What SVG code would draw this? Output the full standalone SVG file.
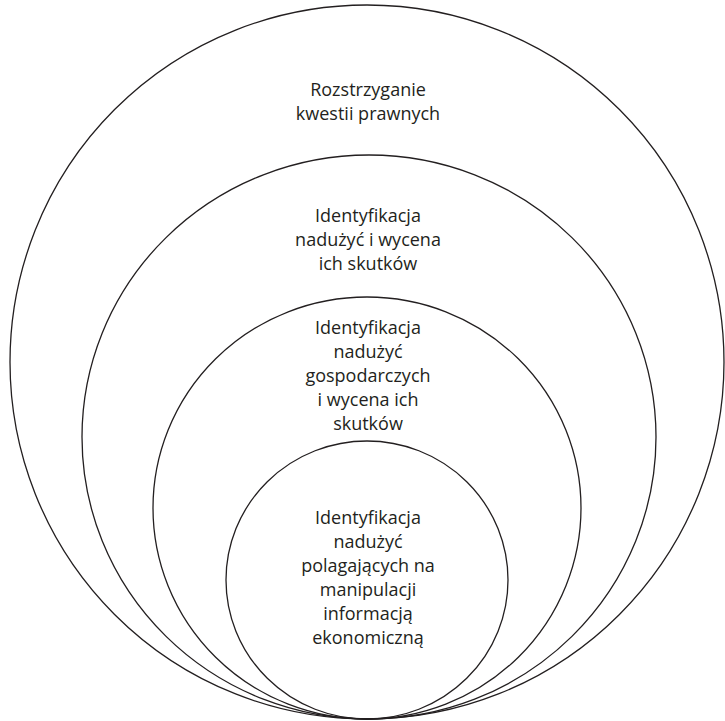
<svg xmlns="http://www.w3.org/2000/svg" width="725" height="721" viewBox="0 0 725 721">
<style>
.c{fill:none;stroke:#231f20;stroke-width:1.3}
.t{font-family:"Open Sans","Noto Sans",sans-serif;font-size:18px;fill:#231f20;text-anchor:middle}
</style>
<rect width="725" height="721" fill="#fff"/>
<g id="outer">
<ellipse class="c" cx="367" cy="362" rx="357" ry="357"/>
<text class="t" x="368" y="96">Rozstrzyganie</text>
<text class="t" x="368" y="120">kwestii prawnych</text>
</g>
<g id="second">
<ellipse class="c" cx="369" cy="437" rx="287" ry="282"/>
<text class="t" x="368" y="222">Identyfikacja</text>
<text class="t" x="368" y="246">nadużyć i wycena</text>
<text class="t" x="368" y="270">ich skutków</text>
</g>
<g id="third">
<ellipse class="c" cx="367" cy="508" rx="214" ry="211"/>
<text class="t" x="368" y="334">Identyfikacja</text>
<text class="t" x="368" y="358">nadużyć</text>
<text class="t" x="368" y="382">gospodarczych</text>
<text class="t" x="368" y="406">i wycena ich</text>
<text class="t" x="368" y="430">skutków</text>
</g>
<g id="inner">
<ellipse class="c" cx="367" cy="580" rx="141" ry="139"/>
<text class="t" x="368" y="524">Identyfikacja</text>
<text class="t" x="368" y="548">nadużyć</text>
<text class="t" x="368" y="572">polagających na</text>
<text class="t" x="368" y="596">manipulacji</text>
<text class="t" x="368" y="620">informacją</text>
<text class="t" x="368" y="644">ekonomiczną</text>
</g>
<g id="connectors"/>
</svg>
